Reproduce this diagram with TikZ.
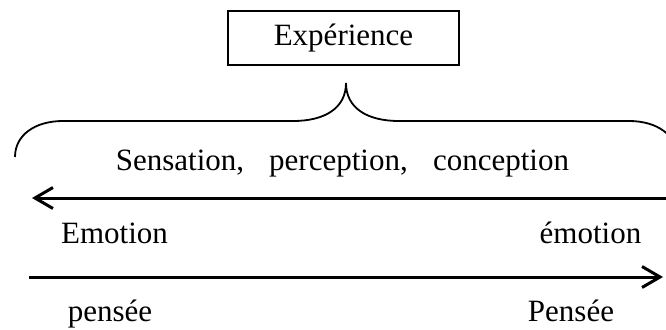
\documentclass[tikz,border=0pt]{standalone}
\usepackage{fontspec}
\setmainfont{Liberation Serif}
\usetikzlibrary{arrows.meta}
\tikzset{
  word/.style={font=\fontsize{31}{36}\selectfont, inner sep=0pt, anchor=base},
  titlebox/.style={draw, line width=1.5pt, minimum width=231pt, minimum height=54pt, font=\fontsize{31}{36}\selectfont},
  way/.style={line width=3pt, -{Straight Barb[length=18pt,width=21pt]}},
  brace/.style={line width=1.8pt}
}
\begin{document}
\begin{tikzpicture}[x=1pt,y=-1pt]
            \newcommand{\bracey}{121}
            \newcommand{\tipx}{346}
            \useasboundingbox (0,0) rectangle (666,329);
            \node[titlebox] (exp) at (343.5,38) {Expérience};
            % brace below the box
            \coordinate (tip) at (\tipx,83);
            \coordinate (bl) at (15,157);
            \coordinate (br) at (677,157);
            \draw[brace] (bl) .. controls (15,135) and (35,\bracey) .. (63,\bracey) -- (\tipx-53,\bracey)
            .. controls (\tipx-21,\bracey) and (\tipx,108) .. (tip)
            .. controls (\tipx,108) and (\tipx+21,\bracey) .. (\tipx+53,\bracey) -- (629,\bracey)
            .. controls (657,\bracey) and (677,135) .. (br);
            \node[word] (sens) at (180,170) {Sensation,};
            \node[word] (perc) at (338.5,170) {perception,};
            \node[word] (conc) at (501,170) {conception};
            % arrows
            \coordinate (r1) at (670,198);
            \coordinate (l1) at (32,198);
            \coordinate (l2) at (29,277);
            \coordinate (r2) at (663,277);
            \draw[way] (r1) -- (l1);
            \draw[way] (l2) -- (r2);
            \node[word] (emoL) at (114.5,243) {Emotion};
            \node[word] (emoR) at (590.5,243) {émotion};
            \node[word] (penL) at (110,321) {pensée};
            \node[word] (penR) at (571,321) {Pensée};
\end{tikzpicture}
\end{document}
